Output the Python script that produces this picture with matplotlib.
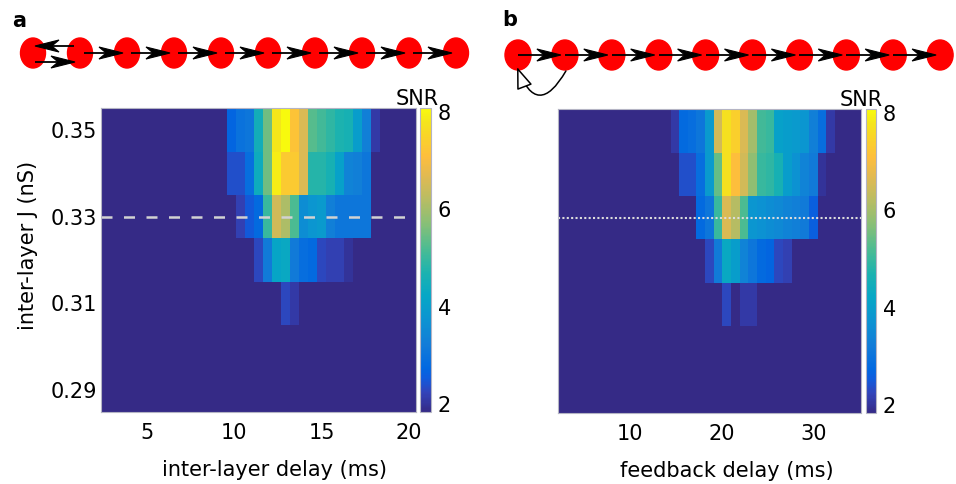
import numpy as np
import matplotlib
matplotlib.use("Agg")
import matplotlib.pyplot as plt
from matplotlib.colors import LinearSegmentedColormap
from matplotlib.patches import Ellipse, Polygon, FancyArrowPatch

# coupling strengths (rows, bottom to top)
j_values = [0.29, 0.30, 0.31, 0.32, 0.33, 0.34, 0.35]
j_ticks = [0.29, 0.31, 0.33, 0.35]
j_marked = 0.33
n_cols = 35
snr_floor = 1.84
snr_top = 8.08

# delay axis range covered by the 35 columns
delay_a_range = (2.4, 20.4)
delay_b_range = (2.1, 35.2)
delay_a_ticks = [5, 10, 15, 20]
delay_b_ticks = [10, 20, 30]

# first coloured column and SNR values of each row; everything else is the floor
snr_a = {
    0.35: (14, [2.7, 3.0, 3.1, 4.5, 5.5, 7.8, 8.08, 7.2, 6.6, 5.3, 5.1, 4.9, 4.7, 4.6, 4.0, 3.3, 2.1]),
    0.34: (14, [2.4, 2.4, 2.9, 4.4, 5.5, 7.9, 7.3, 7.3, 6.6, 4.8, 4.8, 4.6, 4.1, 3.4, 3.3, 3.1]),
    0.33: (15, [2.2, 2.5, 2.8, 5.0, 6.5, 6.1, 5.2, 3.6, 3.8, 3.9, 3.3, 3.1, 3.1, 3.1, 3.1]),
    0.32: (17, [2.3, 3.2, 4.2, 4.3, 3.2, 2.9, 2.8, 2.3, 2.2, 2.2, 2.0]),
    0.31: (20, [2.3, 2.1]),
}
snr_b = {
    0.35: (13, [2.1, 2.8, 2.9, 3.1, 3.9, 6.5, 7.7, 7.4, 6.6, 6.0, 5.1, 5.0, 4.1, 4.0, 3.9, 3.8, 3.3, 2.9, 2.1]),
    0.34: (14, [2.4, 2.4, 2.9, 3.9, 5.4, 7.7, 7.1, 6.5, 5.8, 5.0, 4.9, 4.6, 4.0, 3.7, 3.4, 3.2, 2.0]),
    0.33: (16, [2.8, 3.1, 5.0, 6.6, 6.2, 5.2, 3.8, 3.7, 3.6, 3.5, 3.4, 3.3, 3.2, 2.6]),
    0.32: (17, [2.3, 3.2, 4.3, 4.0, 3.4, 3.1, 2.8, 2.7, 2.3, 2.2]),
    0.31: (19, [2.3, snr_floor, 2.1, 2.1]),
}

# parula-like colormap
parula = LinearSegmentedColormap.from_list("parula", [
    (0 / 63, (0.2081, 0.1663, 0.5292)),
    (4 / 63, (0.1959, 0.2645, 0.7279)),
    (7 / 63, (0.0591, 0.3598, 0.8683)),
    (9 / 63, (0.0060, 0.4086, 0.8828)),
    (14 / 63, (0.0723, 0.4887, 0.8467)),
    (19 / 63, (0.0488, 0.5772, 0.8228)),
    (24 / 63, (0.0228, 0.6535, 0.7768)),
    (29 / 63, (0.1133, 0.7015, 0.6859)),
    (34 / 63, (0.3022, 0.7376, 0.5712)),
    (39 / 63, (0.5300, 0.7491, 0.4661)),
    (44 / 63, (0.7184, 0.7411, 0.3905)),
    (49 / 63, (0.8824, 0.7274, 0.3217)),
    (53 / 63, (0.9938, 0.7455, 0.2403)),
    (57 / 63, (0.9789, 0.8271, 0.1633)),
    (60 / 63, (0.9589, 0.8949, 0.1132)),
    (63 / 63, (0.9763, 0.9831, 0.0538)),
])

W, H = 956, 484
fig = plt.figure(figsize=(W / 100, H / 100), dpi=100)
edge = "#b4b4c4"
fs = 15


def px_axes(x0, y0, x1, y1):
    return fig.add_axes([x0 / W, 1 - y1 / H, (x1 - x0) / W, (y1 - y0) / H])


def snr_grid(rows):
    grid = np.full((len(j_values), n_cols), snr_floor)
    for i, j in enumerate(j_values):
        if j in rows:
            start, vals = rows[j]
            grid[i, start:start + len(vals)] = vals
    return grid


def heatmap(box, cbox, rows, xrange, xticks, show_y):
    ax = px_axes(*box)
    im = ax.imshow(snr_grid(rows), origin="lower", aspect="auto", cmap=parula,
                   vmin=snr_floor, vmax=snr_top, interpolation="nearest",
                   extent=(xrange[0], xrange[1], 0.285, 0.355))
    ax.set_xticks(xticks)
    ax.set_yticks(j_ticks if show_y else [])
    ax.set_yticklabels([f"{j:.2f}" for j in j_ticks] if show_y else [])
    ax.tick_params(length=0, labelsize=fs)
    ax.tick_params(axis="x", pad=8)
    ax.tick_params(axis="y", pad=3)
    for s in ax.spines.values():
        s.set_edgecolor(edge)
        s.set_linewidth(0.8)
    cax = px_axes(*cbox)
    cb = fig.colorbar(im, cax=cax, ticks=[2, 4, 6, 8])
    cb.outline.set_edgecolor(edge)
    cb.outline.set_linewidth(0.8)
    cax.tick_params(length=0, labelsize=fs, pad=5)
    return ax


ax_a = heatmap((101, 108, 416, 412), (420, 108, 431, 412), snr_a,
               delay_a_range, delay_a_ticks, True)
ax_a.axhline(j_marked, color="#d2d2d2", lw=1.8, dashes=(4.4, 4.6), dash_capstyle="butt")

ax_b = heatmap((558, 109, 861, 413), (866, 109, 876, 413), snr_b,
               delay_b_range, delay_b_ticks, False)
ax_b.axhline(j_marked, color="#dcdcdc", lw=1.5, dashes=(1.0, 1.1))

fig.text(28 / W, 1 - 245 / H, "inter-layer J (nS)", rotation=90, ha="center", va="center", fontsize=fs)
fig.text(275 / W, 1 - 470 / H, "inter-layer delay (ms)", ha="center", va="center", fontsize=fs)
fig.text(727 / W, 1 - 471 / H, "feedback delay (ms)", ha="center", va="center", fontsize=fs)
fig.text(417 / W, 1 - 105 / H, "SNR", ha="center", va="baseline", fontsize=fs)
fig.text(861 / W, 1 - 106 / H, "SNR", ha="center", va="baseline", fontsize=fs)
fig.text(12 / W, 1 - 27 / H, "a", ha="left", va="baseline", fontsize=fs, fontweight="bold")
fig.text(502 / W, 1 - 26 / H, "b", ha="left", va="baseline", fontsize=fs, fontweight="bold")

# chain diagrams drawn in pixel coordinates
ov = fig.add_axes([0, 0, 1, 1])
ov.set_xlim(0, W)
ov.set_ylim(H, 0)
ov.axis("off")


def arrow(x0, x1, y):
    d = np.sign(x1 - x0)
    L, hw = 24, 6
    ov.plot([x0, x1 - d * 10], [y, y], color="k", lw=1.3, solid_capstyle="butt")
    head = [(x1, y), (x1 - d * L, y - hw), (x1 - d * 0.7 * L, y), (x1 - d * L, y + hw)]
    ov.add_patch(Polygon(head, closed=True, facecolor="k", edgecolor="k", lw=0.8))


nodes_a = 33 + 47 * np.arange(10)
nodes_b = 518 + 46.9 * np.arange(10)
for x in nodes_a:
    ov.add_patch(Ellipse((x, 53), 25, 30, color="red"))
for x in nodes_b:
    ov.add_patch(Ellipse((x, 55), 26, 30, color="red"))

arrow(nodes_a[1] - 6, nodes_a[0] + 2, 46)
arrow(nodes_a[0] + 2, nodes_a[1] - 5, 62)
for i in range(1, 9):
    arrow(nodes_a[i] + 4, nodes_a[i + 1] - 4, 53)
for i in range(9):
    arrow(nodes_b[i], nodes_b[i + 1] - 4, 55)

ov.add_patch(FancyArrowPatch((nodes_b[1] + 1, 71), (nodes_b[0] - 1, 67),
                             connectionstyle="arc3,rad=-1.05",
                             arrowstyle="-|>,head_length=1.35,head_width=0.5",
                             mutation_scale=10, shrinkA=0, shrinkB=0,
                             facecolor="white", edgecolor="k", lw=1.1))

fig.savefig("out.png", dpi=100)
